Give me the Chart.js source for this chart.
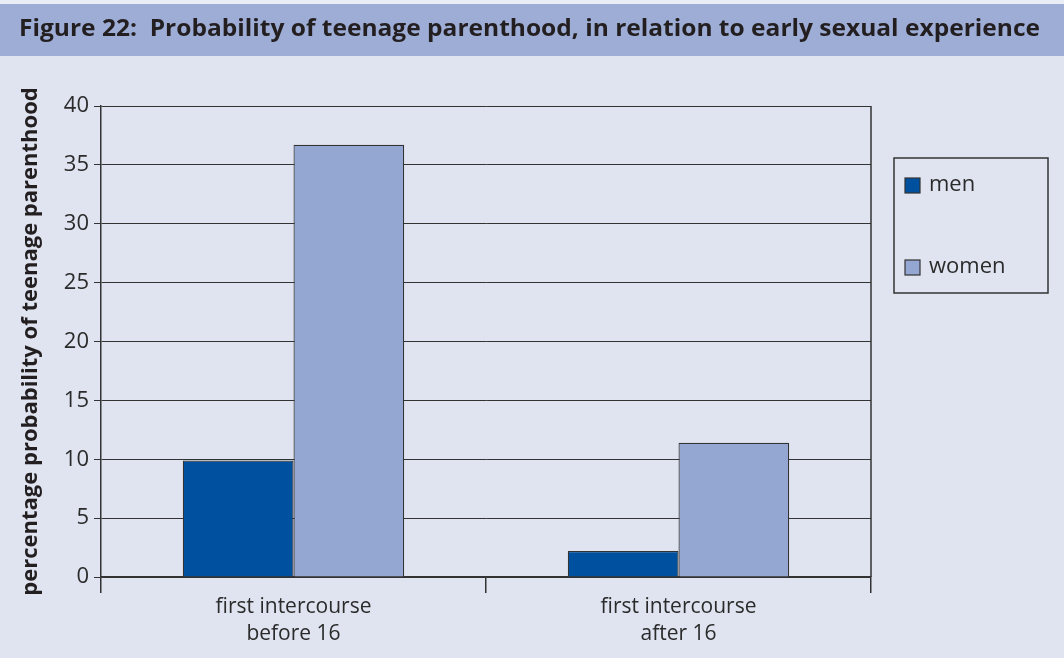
<!DOCTYPE html>
<html>
<head>
<meta charset="utf-8">
<script src="https://cdn.jsdelivr.net/npm/chart.js@4.4.1/dist/chart.umd.min.js"></script>
<style>
    html, body { margin: 0; padding: 0; background: #dfe4f0; }
    #wrap { position: relative; width: 1064px; height: 658px; }
</style>
</head>
<body>
<div id="wrap"><canvas id="mainChart" width="1064" height="658"></canvas></div>
<script>
const titleText = 'Figure 22:  Probability of teenage parenthood, in relation to early sexual experience';
const categories = [['first intercourse', 'before 16'], ['first intercourse', 'after 16']];
const seriesNames = ['men', 'women'];
const menValues = [9.9, 2.2];
const womenValues = [36.7, 11.4];
const yTicks = [0, 5, 10, 15, 20, 25, 30, 35, 40];
const yTitle = 'percentage probability of teenage parenthood';

const FONT = '"Open Sans", "DejaVu Sans", sans-serif';
const INK = '#2b2b2b';

// band, right border and boxed legend
const decor = {
    id: 'decor',
    beforeDraw(chart) {
        const ctx = chart.ctx;
        ctx.save();
        ctx.fillStyle = '#dfe4f0';
        ctx.fillRect(0, 0, chart.width, chart.height);
        ctx.fillStyle = '#e9edf6';
        ctx.fillRect(0, 0, chart.width, 4);
        ctx.fillStyle = '#9eadd6';
        ctx.fillRect(0, 4, chart.width, 52);
        ctx.fillStyle = '#231f20';
        ctx.font = 'bold 24px ' + FONT;
        ctx.textBaseline = 'middle';
        // stretch to the reference's width
        const w = ctx.measureText(titleText).width;
        ctx.translate(19, 29);
        ctx.scale(1021 / w, 1);
        ctx.fillText(titleText, 0, 0);
        ctx.restore();
    },
    afterDraw(chart) {
        const ctx = chart.ctx;
        const a = chart.chartArea;
        ctx.save();
        ctx.strokeStyle = '#333';
        ctx.lineWidth = 1.5;
        ctx.beginPath();
        ctx.moveTo(a.right, a.top);
        ctx.lineTo(a.right, a.bottom);
        ctx.stroke();

        // legend
        const lx = a.right + 23, ly = 158, lw = 154, lh = 135;
        ctx.strokeRect(lx, ly, lw, lh);
        ctx.font = '22px ' + FONT;
        ctx.textBaseline = 'middle';
        chart.data.datasets.forEach((ds, i) => {
            const cy = ly + 27 + i * 82;
            ctx.fillStyle = ds.backgroundColor;
            ctx.fillRect(lx + 11, cy - 7, 15, 15);
            ctx.lineWidth = 1.2;
            ctx.strokeStyle = '#333';
            ctx.strokeRect(lx + 11, cy - 7, 15, 15);
            ctx.fillStyle = INK;
            ctx.fillText(ds.label, lx + 35, cy);
        });
        ctx.restore();
    }
};

const ctx = document.getElementById('mainChart').getContext('2d');
new Chart(ctx, {
    type: 'bar',
    data: {
        labels: categories,
        datasets: [{
            label: seriesNames[0],
            data: menValues,
            backgroundColor: '#0050a0',
            borderColor: '#333',
            borderWidth: 1.2
        }, {
            label: seriesNames[1],
            data: womenValues,
            backgroundColor: '#94a6d2',
            borderColor: '#333',
            borderWidth: 1.2
        }]
    },
    options: {
        responsive: false,
        animation: false,
        layout: { padding: { top: 106, right: 193, left: 0, bottom: 0 } },
        datasets: { bar: { barPercentage: 1, categoryPercentage: 0.575 } },
        plugins: {
            legend: { display: false },
            tooltip: { enabled: false }
        },
        scales: {
            x: {
                grid: { drawOnChartArea: false, tickLength: 16, color: '#333', lineWidth: 1.5 },
                border: { color: '#333', width: 1.5 },
                ticks: { color: INK, font: { family: FONT, size: 21, lineHeight: 1.3 }, padding: 0 },
                afterFit(scale) { scale.height = 81; }
            },
            y: {
                min: 0,
                max: 40,
                afterBuildTicks(scale) { scale.ticks = yTicks.map(v => ({ value: v })); },
                grid: { color: '#333', lineWidth: 1, tickLength: 7 },
                border: { color: '#333', width: 1.5 },
                ticks: { color: INK, font: { family: FONT, size: 22 }, padding: 5 },
                title: {
                    display: true,
                    text: yTitle,
                    color: '#231f20',
                    font: { family: FONT, size: 22, weight: 'bold' },
                    padding: { top: 18, bottom: 0 }
                },
                afterFit(scale) { scale.width = 101; }
            }
        }
    },
    plugins: [decor]
});
</script>
</body>
</html>
